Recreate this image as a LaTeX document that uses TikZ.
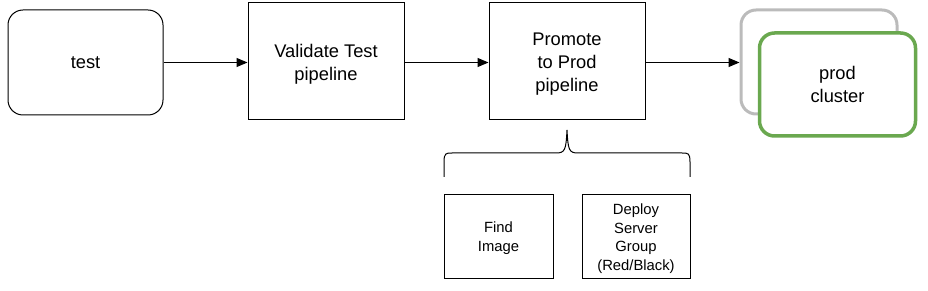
\documentclass[tikz,border=0pt]{standalone}
\usepackage{fontspec}
\setmainfont{Liberation Sans}
\usetikzlibrary{arrows.meta}
\definecolor{greenb}{HTML}{6AA84F}
\definecolor{grayb}{HTML}{BBBBBB}
\begin{document}
\begin{tikzpicture}[x=1pt,y=-1pt,
  box/.style={draw,line width=1pt,inner sep=0pt,align=center,font=\fontsize{18.3}{23}\selectfont},
  small/.style={draw,line width=1pt,inner sep=0pt},
  bigtxt/.style={inner sep=0pt,align=center,font=\fontsize{18.3}{23}\selectfont},
  smalltxt/.style={inner sep=0pt,align=center,font=\fontsize{14.8}{18.5}\selectfont},
  arr/.style={-{Triangle[length=11pt,width=9pt]},line width=1pt}]
\useasboundingbox (0,0) rectangle (928,291);
\node[box,rounded corners=15pt,minimum width=155pt,minimum height=105pt] (test) at (85.5,62.5) {test};
\node[box,minimum width=156pt,minimum height=117pt] (val) at (326,61.5) {};
\node[bigtxt] (valtxt) at ([yshift=-2.5pt]val.center) {Validate Test\\pipeline};
\node[box,minimum width=156pt,minimum height=117pt] (prom) at (567,61.5) {};
\node[bigtxt] (promtxt) at ([yshift=-3pt]prom.center) {Promote\\to Prod\\pipeline};
\node[draw=grayb,line width=3pt,rounded corners=15pt,minimum width=156pt,minimum height=104pt] (gray) at (819,62) {};
\node[box,draw=greenb,fill=white,line width=3.5pt,rounded corners=15pt,minimum width=156pt,minimum height=103pt] (prod) at (837.5,84.5) {prod\\cluster};
\node[small,minimum width=109pt,minimum height=84pt] (find) at (498.5,236) {};
\node[smalltxt] (findtxt) at ([yshift=-2pt]find.center) {Find\\Image};
\node[small,minimum width=108pt,minimum height=84pt] (dep) at (636,236) {};
\node[smalltxt] (deptxt) at ([yshift=-2.5pt]dep.center) {Deploy\\Server\\Group\\(Red/Black)};
\draw[arr] (test.east) -- (val.west |- test.east);
\draw[arr] (val.east |- test.east) -- (prom.west |- test.east);
\draw[arr] (prom.east |- test.east) -- (gray.west |- test.east);
\coordinate (bl) at (444,177);
\coordinate (br) at (690,177);
\coordinate (tip) at (567,130);
\draw[line width=1pt] (bl) -- (444,162) .. controls (444,153) and (446,153) .. (452,153)
  -- (556,153) .. controls (565,153) and (566,150) .. (tip)
  .. controls (568,150) and (569,153) .. (578,153) -- (682,153)
  .. controls (688,153) and (690,153) .. (690,162) -- (br);
\end{tikzpicture}
\end{document}
